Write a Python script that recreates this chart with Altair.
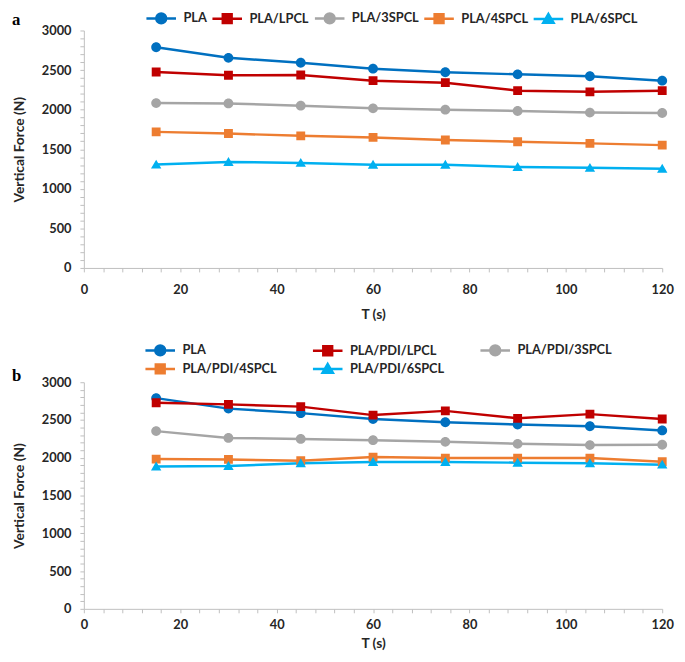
import altair as alt
import pandas as pd

T = [15, 30, 45, 60, 75, 90, 105, 120]

series_a = ["PLA", "PLA/LPCL", "PLA/3SPCL", "PLA/4SPCL", "PLA/6SPCL"]
pla_a = [2788, 2655, 2593, 2518, 2473, 2446, 2422, 2366]
lpcl_a = [2475, 2434, 2438, 2366, 2341, 2240, 2225, 2240]
s3_a = [2083, 2079, 2050, 2017, 2000, 1983, 1963, 1958]
s4_a = [1719, 1698, 1669, 1649, 1616, 1595, 1574, 1552]
s6_a = [1306, 1339, 1327, 1304, 1304, 1275, 1265, 1254]

series_b = ["PLA", "PLA/PDI/LPCL", "PLA/PDI/3SPCL", "PLA/PDI/4SPCL", "PLA/PDI/6SPCL"]
pla_b = [2790, 2651, 2591, 2513, 2470, 2440, 2418, 2362]
lpcl_b = [2728, 2707, 2677, 2565, 2621, 2522, 2578, 2513]
s3_b = [2353, 2263, 2250, 2233, 2211, 2185, 2168, 2172]
s4_b = [1983, 1978, 1961, 2009, 1996, 1996, 1996, 1948]
s6_b = [1884, 1892, 1927, 1944, 1944, 1935, 1927, 1909]

colors = ["#0070C0", "#C00000", "#A5A5A5", "#ED7D31", "#00B0F0"]
widths_a = [2.5, 2.5, 2.5, 4, 2]
widths_b = [2.5, 2.5, 2.5, 2.5, 2]

# marker glyphs with a short line through them (the line part only shows where stroked: the legend)
CIRCLE = "M-3,0H3M1,0A1,1,0,1,1,-1,0A1,1,0,1,1,1,0Z"
SQUARE = "M-3,0H3M-0.9,-0.9H0.9V0.9H-0.9Z"
TRIANGLE = "M-3,0H3M0,-1L1.05,0.8H-1.05Z"
shapes = [CIRCLE, SQUARE, CIRCLE, SQUARE, TRIANGLE]

FONT = "Lato"
TXT = "#262626"


def long_df(series, values):
    rows = []
    for s, vals in zip(series, values):
        for t, v in zip(T, vals):
            rows.append({"T": t, "F": v, "S": s})
    return pd.DataFrame(rows)


def panel(series, values, widths, letter, height, leg_cols, leg_x, leg_y,
          col_pad, row_pad, letter_dy, xlab_pad, xtitle_pad):
    df = long_df(series, values)
    x = alt.X("T:Q", scale=alt.Scale(domain=[0, 120], nice=False),
              axis=alt.Axis(values=list(range(0, 121, 4)),
                            labelExpr="datum.value % 20 === 0 ? datum.label : ''",
                            format="d", title="T (s)", labelOverlap=False, grid=False,
                            labelFlush=False, labelPadding=xlab_pad,
                            titlePadding=xtitle_pad))
    y = alt.Y("F:Q", scale=alt.Scale(domain=[0, 3000], nice=False),
              axis=alt.Axis(values=list(range(0, 3001, 100)),
                            labelExpr="datum.value % 500 === 0 ? datum.label : ''",
                            format="d", title="Vertical Force (N)", labelOverlap=False,
                            grid=False, labelFlush=False, labelPadding=9,
                            titlePadding=15))
    cscale = alt.Scale(domain=series, range=colors)
    sscale = alt.Scale(domain=series, range=shapes)
    wscale = alt.Scale(domain=series, range=widths)

    leg = alt.Legend(title=None, orient="none", legendX=leg_x, legendY=leg_y,
                     direction="horizontal", columns=leg_cols,
                     columnPadding=col_pad, rowPadding=row_pad, padding=0,
                     labelFont=FONT, labelFontSize=13, labelFontWeight="bold",
                     labelColor=TXT, symbolSize=100, symbolStrokeWidth=2.5,
                     labelOffset=16, symbolOpacity=1)
    # legend-only layer (no rows): first, so its legend settings win the merge
    legend_layer = alt.Chart(df).transform_filter("false").mark_point(
        filled=True, opacity=1, size=100, strokeWidth=2.5).encode(
        x=x, y=y,
        color=alt.Color("S:N", scale=cscale, legend=leg),
        stroke=alt.Stroke("S:N", scale=cscale, legend=leg),
        shape=alt.Shape("S:N", scale=sscale, legend=leg),
    )
    lines = alt.Chart(df).mark_line().encode(
        x=x, y=y,
        color=alt.Color("S:N", scale=cscale),
        strokeWidth=alt.StrokeWidth("S:N", scale=wscale, legend=None),
        detail="S:N",
    )
    points = alt.Chart(df).mark_point(filled=True, opacity=1, size=100).encode(
        x=x, y=y,
        color=alt.Color("S:N", scale=cscale),
        shape=alt.Shape("S:N", scale=sscale),
    )
    return alt.layer(legend_layer, lines, points).properties(
        width=587, height=height,
        title=alt.TitleParams(letter, anchor="start", frame="group",
                              font="Liberation Serif", fontSize=17,
                              fontWeight="bold", color="#000000",
                              dx=-73, dy=letter_dy, offset=0),
    )


chart_a = panel(series_a, [pla_a, lpcl_a, s3_a, s4_a, s6_a], widths_a, "a",
                241, 5, 72, -19, 0, 4, 17, 12, 11)
chart_b = panel(series_b, [pla_b, lpcl_b, s3_b, s4_b, s6_b], widths_b, "b",
                230, 3, 71, -39, 31, -2, 42, 6, 5)

chart = alt.vconcat(chart_a, chart_b, spacing=23).resolve_scale(
    color="independent", shape="independent", stroke="independent",
    strokeWidth="independent", x="independent", y="independent"
).resolve_legend(
    color="independent", shape="independent", stroke="independent"
).properties(
    padding={"left": 4, "top": -2, "right": 0, "bottom": 0},
    background="white",
).configure_axis(
    domainColor="#BFBFBF", tickColor="#BFBFBF", tickSize=4, domainWidth=1,
    labelFont=FONT, labelFontWeight="bold", labelFontSize=13, labelColor=TXT,
    titleFont=FONT, titleFontWeight="bold", titleFontSize=14, titleColor=TXT,
    grid=False,
).configure_view(stroke=None)

chart.save("out.html", embed_options={"renderer": "svg", "actions": False})
